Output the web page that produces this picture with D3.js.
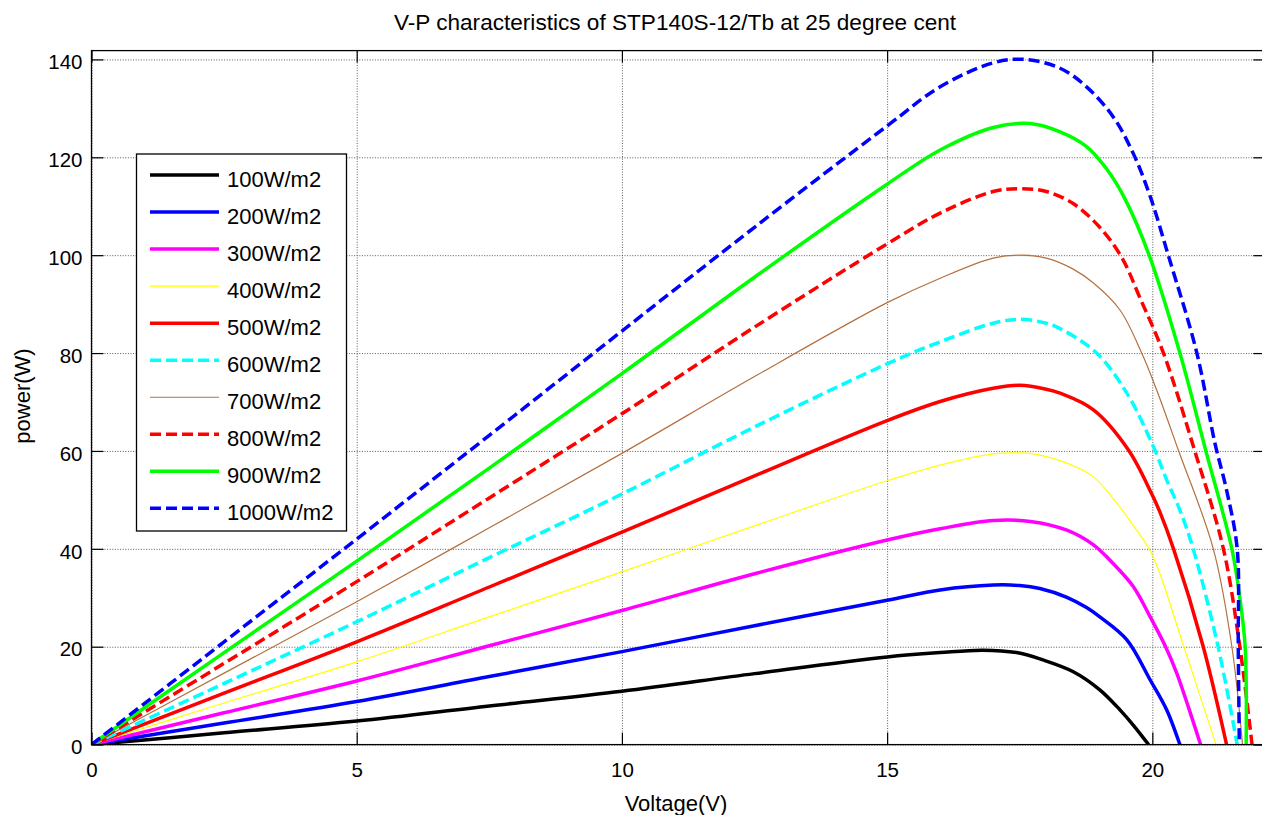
<!DOCTYPE html>
<html>
<head>
<meta charset="utf-8">
<script src="https://cdn.jsdelivr.net/npm/d3@7"></script>
<style>
 body { margin:0; background:#fff; }
 svg text { font-family:"Liberation Sans", Arial, sans-serif; fill:#000; }
 .grid line { stroke:#5a5a5a; stroke-width:1; stroke-dasharray:1,1.6; }
 .grid path { display:none; }
 .ax path { display:none; }
 .ax line { stroke:#000; stroke-width:1.2; }
</style>
</head>
<body>
<div id="chart"></div>
<script>
// Chart data: [voltage, power] pairs per irradiance
var curve100  = [[0,0],[2.5,2.4],[5,4.8],[7.5,7.9],[10,10.9],[12.5,14.5],[15,17.9],[16,18.8],[16.8,19.3],[17.44,18.8],[17.94,17.3],[18.51,14.9],[19.01,11.2],[19.39,7.1],[19.64,4],[19.93,0]];
var curve200  = [[0,0],[2.5,4.4],[5,8.8],[7.5,13.9],[10,19],[12.5,24.3],[15,29.5],[16,31.6],[17,32.6],[17.5,32.5],[17.88,31.9],[18.39,30.1],[18.76,28],[19.01,26.1],[19.52,21.4],[19.96,13.2],[20.27,7.1],[20.52,0]];
var curve300  = [[0,0],[2.5,6.5],[5,13],[7.5,20.2],[10,27.4],[12.5,34.9],[15,41.8],[16,44.1],[17,45.8],[17.7,45.6],[18.39,43.8],[18.89,40.8],[19.26,37],[19.64,32.3],[19.96,26.1],[20.25,20],[20.46,14.6],[20.91,0]];
var curve400  = [[0,0],[2.5,8.5],[5,16.9],[7.5,26.1],[10,35.3],[12.5,44.7],[15,53.9],[16,57.1],[17,59.4],[17.5,59.6],[17.76,59.4],[18.39,57.5],[18.89,54.7],[19.26,50.3],[19.64,44.8],[19.96,39.6],[20.14,35],[20.58,20.5],[21.2,0]];
var curve500  = [[0,0],[2.5,10.5],[5,21],[7.5,32.2],[10,43.4],[12.5,54.9],[15,66.2],[16,70.1],[17,72.8],[17.5,73.4],[18,72.6],[18.26,71.8],[18.89,68.4],[19.55,60.2],[19.99,51.2],[20.14,47.6],[20.4,40],[20.96,20],[21.4,0]];
var curve600  = [[0,0],[2.5,12.5],[5,25.1],[7.5,38.2],[10,51.2],[12.5,64.9],[15,77.8],[16,82.3],[17,86.1],[17.5,86.9],[18,86.1],[18.26,85],[18.95,80],[19.52,71.8],[20.02,60.9],[20.27,54.1],[20.52,47.9],[20.77,40],[21.24,20],[21.6,0]];
var curve700  = [[0,0],[2.5,14.6],[5,29.2],[7.5,44.3],[10,59.5],[12.5,75.2],[15,90.3],[16,95.3],[17,99.4],[17.5,100],[18,99.4],[18.5,97.2],[18.89,94.3],[19.39,88.8],[19.8,80],[20.08,72.5],[20.49,60.2],[21.15,40],[21.5,20],[21.7,0]];
var curve800  = [[0,0],[2.5,16.6],[5,33.3],[7.5,50.4],[10,67.6],[12.5,85.3],[15,102.3],[16,108.6],[17,113],[17.5,113.6],[18,113],[18.5,110.6],[19,105.8],[19.42,99.6],[19.77,91.2],[20.21,80],[20.8,60],[21.34,40],[21.65,20],[21.88,0]];
var curve900  = [[0,0],[2.5,18.8],[5,37.5],[7.5,56.5],[10,75.8],[12.5,95.5],[15,114.5],[16,121.5],[17,126.1],[17.7,126.9],[18.26,125.2],[18.76,122.2],[19.14,117.6],[19.47,111.8],[19.94,100],[20.52,80],[21.01,60],[21.5,40],[21.65,30],[21.75,20],[21.77,0]];
var curve1000 = [[0,0],[2.5,21],[5,42],[7.5,63.2],[10,84.5],[12.5,105.7],[15,126.4],[16,134.4],[17,139.3],[17.6,140],[18.26,138.2],[18.76,134.4],[19.26,128.3],[19.64,120.8],[19.96,112],[20.3,100],[20.84,80],[21.18,61.6],[21.4,52],[21.6,40],[21.62,20],[21.64,0]];

var legendLabels = ["100W/m2","200W/m2","300W/m2","400W/m2","500W/m2","600W/m2","700W/m2","800W/m2","900W/m2","1000W/m2"];
var xTicks = [0,5,10,15,20];
var yTicks = [0,20,40,60,80,100,120,140];
var xMax = 22.13, yMax = 141.8;

var titleText = "V-P characteristics of STP140S-12/Tb at 25 degree cent";
var xLabel = "Voltage(V)";
var yLabel = "power(W)";

// line styles, same order as the curves
var curves = [curve100,curve200,curve300,curve400,curve500,curve600,curve700,curve800,curve900,curve1000];
var styles = [
 {c:"#000000", w:3.5, d:null},
 {c:"#0000ff", w:3.5, d:null},
 {c:"#ff00ff", w:3.5, d:null},
 {c:"#ffff00", w:1.2, d:null},
 {c:"#ff0000", w:3.5, d:null},
 {c:"#00ffff", w:3.5, d:"11,5"},
 {c:"#b4703f", w:1.2, d:null},
 {c:"#ff0000", w:3.5, d:"11,5"},
 {c:"#00ff00", w:3.5, d:null},
 {c:"#0000ff", w:3.5, d:"11,5"}
];

var W = 1262, H = 815;
var mLeft = 91.5, mTop = 50.6, mRight = 1265.3, mBottom = 744.6;
var pw = mRight - mLeft, ph = mBottom - mTop;

var svg = d3.select("#chart").append("svg")
 .attr("width", W).attr("height", H);

var xScale = d3.scaleLinear().domain([0, xMax]).range([0, pw]);
var yScale = d3.scaleLinear().domain([0, yMax]).range([ph, 0]);

svg.append("defs").append("clipPath").attr("id","plotClip")
 .append("rect").attr("width", pw).attr("height", ph);

var g = svg.append("g").attr("transform", "translate(" + mLeft + "," + mTop + ")");

// grid
g.append("g").attr("class","grid")
 .attr("transform","translate(0," + ph + ")")
 .call(d3.axisBottom(xScale).tickValues(xTicks).tickSize(-ph).tickFormat(""));
g.append("g").attr("class","grid")
 .call(d3.axisLeft(yScale).tickValues(yTicks).tickSize(-pw).tickFormat(""));

// curves
var line = d3.line()
 .x(function(d){ return xScale(d[0]); })
 .y(function(d){ return yScale(d[1]); })
 .curve(d3.curveCatmullRom.alpha(0.5));

var plot = g.append("g").attr("clip-path","url(#plotClip)");
curves.forEach(function(c,i){
 plot.append("path")
  .datum(c)
  .attr("fill","none")
  .attr("stroke", styles[i].c)
  .attr("stroke-width", styles[i].w)
  .attr("stroke-dasharray", styles[i].d)
  .attr("stroke-linejoin","round")
  .attr("d", line);
});

// axes with inside ticks
var xAx = g.append("g").attr("class","ax")
 .attr("transform","translate(0," + ph + ")")
 .call(d3.axisBottom(xScale).tickValues(xTicks).tickSize(-12).tickPadding(18).tickFormat(d3.format("d")));
var yAx = g.append("g").attr("class","ax")
 .call(d3.axisLeft(yScale).tickValues(yTicks).tickSize(-12).tickPadding(9).tickFormat(d3.format("d")));
g.append("g").attr("class","ax")
 .call(d3.axisTop(xScale).tickValues(xTicks).tickSize(-12).tickFormat(""));
g.append("g").attr("class","ax")
 .attr("transform","translate(" + pw + ",0)")
 .call(d3.axisRight(yScale).tickValues(yTicks).tickSize(-12).tickFormat(""));

xAx.selectAll("text").style("font-size","20.5px").attr("fill","#000");
yAx.selectAll("text").style("font-size","20.5px").attr("fill","#000").attr("dy","0.45em");

// frame
g.append("rect")
 .attr("width", pw).attr("height", ph)
 .attr("fill","none").attr("stroke","#000").attr("stroke-width",1.3);

// title and axis labels
svg.append("text")
 .attr("x", 675).attr("y", 30)
 .attr("text-anchor","middle")
 .style("font-size","22.6px")
 .text(titleText);
svg.append("text")
 .attr("x", 676).attr("y", 811)
 .attr("text-anchor","middle")
 .style("font-size","22px")
 .text(xLabel);
svg.append("text")
 .attr("transform","translate(30,396) rotate(-90)")
 .attr("text-anchor","middle")
 .style("font-size","22px")
 .text(yLabel);

// legend
var lg = svg.append("g");
lg.append("rect")
 .attr("x",136.5).attr("y",154).attr("width",210).attr("height",377)
 .attr("fill","#fff").attr("stroke","#000").attr("stroke-width",1.3);
legendLabels.forEach(function(lbl,i){
 var ly = 175 + i*37.04;
 lg.append("line")
  .attr("x1",150).attr("x2",219).attr("y1",ly).attr("y2",ly)
  .attr("stroke", styles[i].c)
  .attr("stroke-width", styles[i].w)
  .attr("stroke-dasharray", styles[i].d);
 lg.append("text")
  .attr("x",227).attr("y",ly+11.5)
  .style("font-size","22px")
  .text(lbl);
});
</script>
</body>
</html>
